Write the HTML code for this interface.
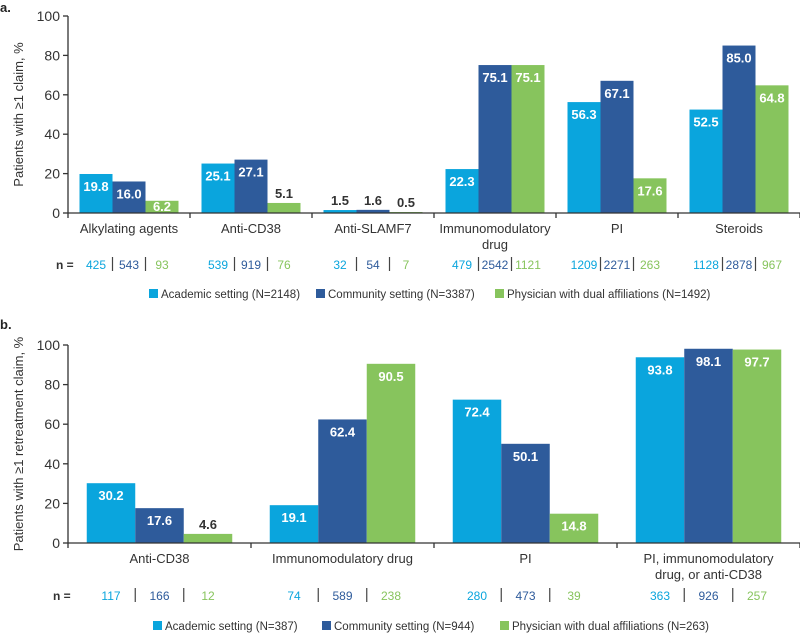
<!DOCTYPE html>
<html><head><meta charset="utf-8"><style>
body{margin:0;background:#fff;}
svg{display:block;font-family:"Liberation Sans",Arial,sans-serif;}
</style></head><body>
<svg id="s" width="800" height="633" viewBox="0 0 800 633">
<text x="0" y="12" font-size="13" font-weight="bold" fill="#222">a.</text>
<text x="0" y="329" font-size="13" font-weight="bold" fill="#222">b.</text>
</svg>
<script>
const colors=['#0aa5dd','#2e5b9b','#87c45d'];
const catsA=['Alkylating agents','Anti-CD38','Anti-SLAMF7','Immunomodulatory|drug','PI','Steroids'];
const academicA=[19.8,25.1,1.5,22.3,56.3,52.5];
const communityA=[16.0,27.1,1.6,75.1,67.1,85.0];
const dualA=[6.2,5.1,0.5,75.1,17.6,64.8];
const nAcademicA=[425,539,32,479,1209,1128];
const nCommunityA=[543,919,54,2542,2271,2878];
const nDualA=[93,76,7,1121,263,967];
const legendA=['Academic setting (N=2148)','Community setting (N=3387)','Physician with dual affiliations (N=1492)'];
const catsB=['Anti-CD38','Immunomodulatory drug','PI','PI, immunomodulatory|drug, or anti-CD38'];
const academicB=[30.2,19.1,72.4,93.8];
const communityB=[17.6,62.4,50.1,98.1];
const dualB=[4.6,90.5,14.8,97.7];
const nAcademicB=[117,74,280,363];
const nCommunityB=[166,589,473,926];
const nDualB=[12,238,39,257];
const legendB=['Academic setting (N=387)','Community setting (N=944)','Physician with dual affiliations (N=263)'];
const yTicks=[0,20,40,60,80,100];
const NS='http://www.w3.org/2000/svg';
const svg=document.getElementById('s');
function el(tag,attrs,parent){const e=document.createElementNS(NS,tag);for(const k in attrs)e.setAttribute(k,attrs[k]);(parent||svg).appendChild(e);return e;}
function panel(o){
  const g=el('g',{});
  
  
  const y=v=>o.y0-(o.y0-o.y100)*v/100;
  const x0=68,x1=800,step=(x1-x0)/o.cats.length;
  const ax=el('line',{x1:x0,y1:o.y100,x2:x0,y2:o.y0,stroke:'#333','stroke-width':1.3},g);
  
  
  yTicks.forEach(t=>{
    el('line',{x1:x0-5,y1:y(t),x2:x0,y2:y(t),stroke:'#333','stroke-width':1.3},g);
    const tx=el('text',{x:x0-8,y:y(t)+5,'font-size':14,'text-anchor':'end',fill:'#333'},g);
    tx.textContent=t;
    
    
  });
  const yl=el('text',{transform:`translate(23,${(o.y0+o.y100)/2}) rotate(-90)`,'font-size':13,'text-anchor':'middle',fill:'#333'},g);
  yl.textContent=o.ylabel;
  
  
  const series=[o.s1,o.s2,o.s3],ns=[o.n1,o.n2,o.n3];
  o.cats.forEach((c,i)=>{
    const cx=x0+i*step;
    el('line',{x1:cx+step,y1:o.y0,x2:cx+step,y2:o.y0+5,stroke:'#333','stroke-width':1.3},g);
    const lines=c.split('|');
    lines.forEach((ln,j)=>{
      const t=el('text',{x:cx+step/2,y:o.y0+20+j*16,'font-size':13,'text-anchor':'middle',fill:'#333'},g);
      t.textContent=ln;
      
      
    });
    const bx0=cx+(step-3*o.bw)/2;
    series.forEach((s,k)=>{
      const v=s[i],bx=bx0+k*o.bw,top=y(v);
      const r=el('rect',{x:bx,y:top,width:o.bw,height:o.y0-top,fill:colors[k]},g);
      
      
      const inside=v>=6;
      const lt=el('text',{x:bx+o.bw/2,y:inside?Math.min(top+17,o.y0-2):top-5,'font-size':13,'font-weight':'bold','text-anchor':'middle',fill:inside?'#fff':'#333'},g);
      lt.textContent=v.toFixed(1);
      
      
      const nt=el('text',{x:bx+o.bw/2,y:o.ny,'font-size':12,'text-anchor':'middle',fill:colors[k]},g);
      nt.textContent=ns[k][i];
      
      
      if(k>0){el('line',{x1:bx,y1:o.ny-12,x2:bx,y2:o.ny+2,stroke:'#444','stroke-width':1.2},g);}
    });
  });
  const ax2=el('line',{x1:x0,y1:o.y0,x2:x1,y2:o.y0,stroke:'#333','stroke-width':1.3},g);
  
  
  el('line',{x1:x0,y1:o.y0,x2:x0,y2:o.y0+5,stroke:'#333','stroke-width':1.3},g);
  const nl=el('text',{x:o.nlx,y:o.ny,'font-size':12,'font-weight':'bold',fill:'#333'},g);
  nl.textContent='n =';
  
  
  o.legend.forEach((t,k)=>{
    const lx=o.lx[k];
    const sq=el('rect',{x:lx,y:o.ly-9,width:9,height:9,fill:colors[k]},g);
    
    
    const lt=el('text',{x:lx+12,y:o.ly,'font-size':11.5,fill:'#333'},g);
    lt.textContent=t;
    
    
  });
}
panel({name:'chart-a',cats:catsA,s1:academicA,s2:communityA,s3:dualA,n1:nAcademicA,n2:nCommunityA,n3:nDualA,legend:legendA,y0:213,y100:16,bw:33,ny:269,nlx:56,ly:298,lx:[149,316,495],ylabel:'Patients with \u22651 claim, %'});
panel({name:'chart-b',cats:catsB,s1:academicB,s2:communityB,s3:dualB,n1:nAcademicB,n2:nCommunityB,n3:nDualB,legend:legendB,y0:543,y100:345,bw:48.5,ny:600,nlx:53,ly:630,lx:[153,322,500],ylabel:'Patients with \u22651 retreatment claim, %'});
</script>
</body></html>
